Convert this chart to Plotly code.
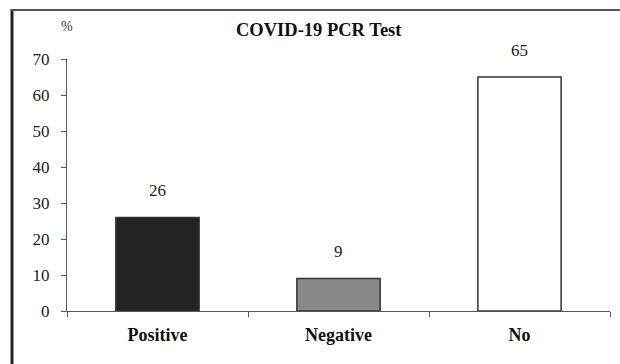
import plotly.graph_objects as go

categories = ["Positive", "Negative", "No"]
values = [26, 9, 65]
bar_colors = ["#222222", "#888888", "#ffffff"]
y_ticks = [0, 10, 20, 30, 40, 50, 60, 70]
title_text = "COVID-19 PCR Test"
unit_text = "%"

FONT = "Liberation Serif, Times New Roman, serif"
AX = "#555555"

fig = go.Figure()
fig.add_trace(go.Bar(
    x=categories, y=values, width=0.46,
    marker=dict(color=bar_colors, line=dict(color="#333333", width=1.5)),
    hoverinfo="skip",
))

annotations = []
for c, v in zip(categories, values):
    annotations.append(dict(x=c, y=v, xref="x", yref="y", text=str(v), showarrow=False,
                            yshift=27, yanchor="middle",
                            font=dict(family=FONT, size=17, color="#222")))
annotations.append(dict(x=0.464, y=1.115, xref="paper", yref="paper", text="<b>" + title_text + "</b>",
                        showarrow=False, yanchor="middle", xanchor="center",
                        font=dict(family=FONT, size=18.5, color="#111")))
annotations.append(dict(x=0.0, y=1.127, xref="paper", yref="paper", text=unit_text,
                        showarrow=False, yanchor="middle", xanchor="center",
                        font=dict(family=FONT, size=14, color="#333")))

shapes = [
    dict(type="line", xref="paper", yref="paper", x0=-0.1013, x1=-0.1013, y0=1.196, y1=-0.25,
         line=dict(color="#222222", width=3)),
    dict(type="line", xref="paper", yref="paper", x0=-0.104, x1=1.03, y0=1.194, y1=1.194,
         line=dict(color="#555555", width=2)),
]

fig.update_layout(
    width=620, height=364,
    margin=dict(l=67, r=10, t=59, b=53),
    paper_bgcolor="white", plot_bgcolor="white",
    showlegend=False,
    font=dict(family=FONT, size=17, color="#222"),
    annotations=annotations,
    shapes=shapes,
    xaxis=dict(
        showline=True, linecolor=AX, linewidth=1.2,
        ticks="outside", ticklen=5, tickcolor=AX, tickson="boundaries",
        tickfont=dict(family=FONT, size=18, color="#111"),
        tickprefix="<b>", ticksuffix="</b>",
        ticklabelstandoff=7,
        showgrid=False, zeroline=False,
    ),
    yaxis=dict(
        range=[0, 70], tickvals=y_ticks,
        showline=True, linecolor=AX, linewidth=1.2,
        ticks="outside", ticklen=5, tickcolor=AX,
        tickfont=dict(family=FONT, size=17, color="#222"),
        ticklabelstandoff=8,
        showgrid=False, zeroline=False,
    ),
)

fig.write_html("out.html")
